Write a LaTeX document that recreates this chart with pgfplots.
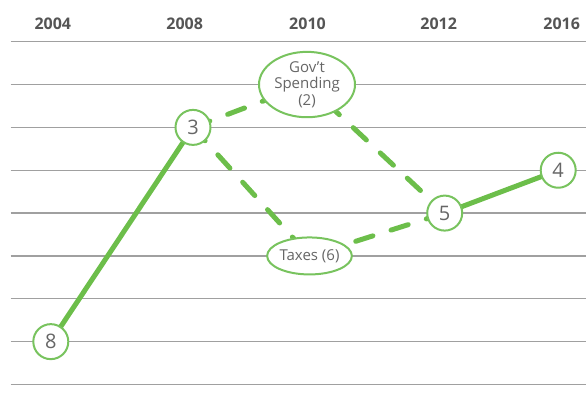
\documentclass[border=0pt]{standalone}
\usepackage{pgfplots}
\pgfplotsset{compat=1.18}
\usepackage{fontspec}
\setmainfont{Open Sans}
\usetikzlibrary{shapes.geometric}

\definecolor{lgreen}{HTML}{6CBE4A}
\definecolor{cgreen}{HTML}{78C35E}
\definecolor{gridgray}{HTML}{A0A0A0}
\definecolor{yeargray}{HTML}{555555}
\definecolor{numgray}{HTML}{666666}

\tikzset{
    numnode/.style={circle, draw=cgreen, line width=2pt, fill=white,
        minimum size=35pt, inner sep=0pt, text=numgray,
        font=\fontsize{20}{22}\selectfont},
    ovalnode/.style={ellipse, draw=cgreen, line width=2pt, fill=white,
        inner sep=0pt, align=center, text=numgray,
        font=\fontsize{15}{16.5}\selectfont},
    dashline/.style={lgreen, line width=5pt, line cap=round,
        dash pattern=on 18pt off 19pt},
    solidline/.style={lgreen, line width=5pt},
    year/.style={font=\fontsize{16}{18}\selectfont\bfseries, text=yeargray},
}

% rank of each stage (x in drawing units, y = rank)
\pgfplotstableread{
x y lab
50.8 8 8
193 3 3
444.7 5 5
558.2 4 4
}\ranked

\begin{document}
\begin{tikzpicture}
\begin{axis}[
    scale only axis,
    width=575.3pt, height=342.8pt,
    xmin=10.7, xmax=586,
    ymin=1, ymax=9,
    y dir=reverse,
    clip=false,
    axis line style={draw=none},
    tick style={draw=none},
    xtick=\empty,
    ytick={1,...,9},
    yticklabels={},
    ymajorgrids,
    grid style={gridgray, line width=1.2pt},
]
\coordinate (bl) at (axis cs:0,9.478);
\coordinate (tr) at (axis cs:586,0.027);

\addplot[solidline, mark=none] coordinates {(50.8,8) (193,3)};
\addplot[solidline, mark=none] coordinates {(444.7,5) (558.2,4)};
\addplot[dashline, mark=none] coordinates {(193,3) (307,2) (444.7,5)};
\addplot[dashline, mark=none] coordinates {(193,3) (309.5,6) (444.7,5)};

\addplot[draw=none, mark=none, nodes near coords, point meta=explicit symbolic,
    nodes near coords align=center,
    every node near coord/.append style={numnode}]
    table[x=x, y=y, meta=lab] {\ranked};
\addplot[draw=none, mark=none, nodes near coords={Gov’t\\Spending\\(2)},
    nodes near coords align=center,
    every node near coord/.append style={ovalnode, minimum width=96pt, minimum height=58pt}]
    coordinates {(307,2)};
\addplot[draw=none, mark=none, nodes near coords={Taxes (6)},
    nodes near coords align=center,
    every node near coord/.append style={ovalnode, minimum width=83pt, minimum height=37pt}]
    coordinates {(309.5,6)};

\node[year] at (axis cs:52.8,0.587) {2004};
\node[year] at (axis cs:184.7,0.587) {2008};
\node[year] at (axis cs:307.5,0.587) {2010};
\node[year] at (axis cs:438.7,0.587) {2012};
\node[year] at (axis cs:561.7,0.587) {2016};
\end{axis}
\pgfresetboundingbox
\path (bl) rectangle (tr);
\end{tikzpicture}
\end{document}
